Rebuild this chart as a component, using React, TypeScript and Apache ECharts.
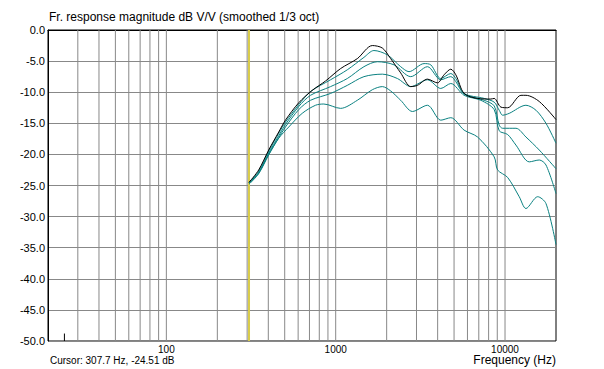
import React, { useEffect, useRef } from "react";
import * as echarts from "echarts";

const TITLE = "Fr. response magnitude dB V/V (smoothed 1/3 oct)";
const X_NAME = "Frequency (Hz)";
const CURSOR_TEXT = "Cursor: 307.7 Hz, -24.51 dB";
const CURSOR_FREQ = 307.7;
const MARKER_FREQ = 25;
const X_MIN = 20;
const X_MAX = 20000;
const Y_MIN = -50;
const Y_MAX = 0;
const Y_STEP = 5;
const xTickLabels = [100, 1000, 10000];
const gridFreqs = [
  30, 40, 50, 60, 70, 80, 90, 100,
  200, 300, 400, 500, 600, 700, 800, 900, 1000,
  2000, 3000, 4000, 5000, 6000, 7000, 8000, 9000, 10000,
];

// [frequency Hz, dB]
const curve0 = [
  [307.7, -24.5], [351, -22.5], [402, -19.3], [461, -16.4], [505, -14.5], [605, -11.7],
  [727, -9.7], [871, -8.2], [1069, -6.2], [1342, -4.6], [1646, -2.5], [1886, -2.9],
  [2112, -4.6], [2420, -6.9], [2774, -9.1], [3040, -8.9], [3482, -7.9], [3990, -8.5],
  [4366, -7.2], [4784, -6.3], [5122, -7.2], [5734, -10.2], [6882, -11.0], [8252, -11.1],
  [8630, -11.0], [9456, -12.4], [10360, -12.5], [12416, -10.5], [13288, -10.5],
  [15932, -11.5], [20000, -14.4],
];
const curve1 = [
  [307.7, -24.5], [351, -22.7], [402, -19.5], [461, -16.6], [505, -14.8], [605, -12.0],
  [710, -9.9], [933, -8.0], [1171, -6.4], [1468, -4.4], [1682, -3.3], [2019, -4.0],
  [2420, -5.9], [2710, -6.7], [3326, -5.4], [3643, -5.6], [4174, -7.8], [4784, -7.0],
  [5122, -7.8], [5734, -10.2], [7530, -11.0], [8630, -11.6], [9238, -12.9], [9676, -13.7],
  [10588, -13.4], [13288, -12.1], [15232, -12.9], [17452, -15.0], [20000, -18.2],
];
const curve2 = [
  [307.7, -24.6], [351, -22.9], [402, -19.8], [461, -17.0], [505, -15.2], [605, -12.3],
  [710, -10.5], [933, -9.1], [1171, -7.8], [1468, -5.9], [1762, -5.1], [2209, -5.6],
  [2774, -7.5], [3482, -5.9], [4174, -8.0], [4784, -7.5], [5122, -8.3], [5734, -10.3],
  [7530, -11.3], [8630, -12.2], [9238, -15.3], [9676, -15.8], [11598, -15.8],
  [13288, -17.2], [15932, -19.3], [20000, -22.3],
];
const curve3 = [
  [307.7, -24.7], [351, -23.0], [402, -20.0], [461, -17.3], [505, -15.6], [605, -12.8],
  [710, -11.3], [933, -10.2], [1171, -8.9], [1468, -7.5], [1886, -7.1], [2314, -7.8],
  [2774, -9.1], [3482, -8.0], [4174, -9.4], [4784, -8.6], [5734, -10.5], [7198, -11.3],
  [8630, -12.8], [9238, -16.2], [10360, -16.8], [11598, -18.5], [13900, -21.2],
  [15932, -20.9], [17452, -21.7], [20000, -26.3],
];
const curve4 = [
  [307.7, -24.8], [351, -23.1], [402, -20.1], [461, -17.4], [528, -15.6], [634, -13.4],
  [760, -12.1], [851, -11.9], [1069, -12.6], [1342, -11.3], [1646, -9.6], [1886, -9.1],
  [2112, -9.8], [2420, -11.3], [2838, -13.1], [3482, -12.1], [4174, -14.5], [4784, -14.1],
  [5734, -16.1], [6882, -17.2], [8630, -20.4], [9038, -22.5], [10360, -23.7],
  [12130, -26.8], [13288, -28.7], [15588, -26.8], [17452, -27.9], [20000, -34.5],
];

const FONT = "'Liberation Sans', Arial, sans-serif";
const TEAL = "#0a8080";

export default function App() {
  const ref = useRef<HTMLDivElement>(null);

  useEffect(() => {
    const chart = echarts.init(ref.current!, null, { renderer: "svg" });

    const gridSeries = gridFreqs.map((f) => ({
      type: "line",
      data: [[f, Y_MAX], [f, Y_MIN]],
      symbol: "none",
      silent: true,
      lineStyle: { color: "#888888", width: 1 },
      z: 1,
    }));

    const curveSeries = [curve4, curve3, curve2, curve1].map((c) => ({
      type: "line",
      data: c,
      symbol: "none",
      smooth: 0.3,
      lineStyle: { color: TEAL, width: 1 },
      z: 3,
    }));

    chart.setOption({
      animation: false,
      backgroundColor: "#ffffff",
      grid: {
        left: 48,
        right: 48,
        top: 30,
        bottom: 28,
        show: true,
        backgroundColor: "#ffffff",
        borderColor: "#000000",
        borderWidth: 1,
      },
      xAxis: {
        type: "log",
        logBase: 10,
        min: X_MIN,
        max: X_MAX,
        axisLine: { show: true, lineStyle: { color: "#000", width: 1 } },
        axisTick: { show: false },
        splitLine: { show: false },
        axisLabel: {
          color: "#000",
          fontSize: 10,
          lineHeight: 10,
          fontFamily: FONT,
          margin: 3,
          formatter: (v: number) => {
            const r = Math.round(v);
            return xTickLabels.includes(r) ? String(r) : "";
          },
        },
      },
      yAxis: {
        type: "value",
        min: Y_MIN,
        max: Y_MAX,
        interval: Y_STEP,
        axisLine: { show: true, lineStyle: { color: "#000", width: 1 } },
        axisTick: { show: false },
        splitLine: { show: true, lineStyle: { color: "#888888", width: 1 } },
        axisLabel: {
          color: "#000",
          fontSize: 11,
          fontFamily: FONT,
          margin: 3,
          formatter: (v: number) => v.toFixed(1),
        },
      },
      graphic: [
        {
          type: "text",
          left: 49,
          top: 11,
          style: { text: TITLE, fill: "#000", font: `12px ${FONT}` },
        },
        {
          type: "text",
          right: 48,
          top: 354,
          style: { text: X_NAME, fill: "#000", font: `12px ${FONT}` },
        },
        {
          type: "text",
          left: 50,
          top: 355,
          style: { text: CURSOR_TEXT, fill: "#000", font: `10px ${FONT}` },
        },
      ],
      series: [
        ...gridSeries,
        {
          type: "line",
          data: [[CURSOR_FREQ, Y_MAX], [CURSOR_FREQ, Y_MIN]],
          symbol: "none",
          silent: true,
          lineStyle: { color: "#d9cc4a", width: 2 },
          z: 2,
        },
        {
          type: "line",
          data: [[MARKER_FREQ, Y_MIN], [MARKER_FREQ, -48.8]],
          symbol: "none",
          silent: true,
          lineStyle: { color: "#000", width: 1 },
          z: 2,
        },
        ...curveSeries,
        {
          type: "line",
          data: curve0,
          symbol: "none",
          smooth: 0.3,
          lineStyle: { color: "#000", width: 1 },
          z: 4,
        },
      ],
    });

    return () => chart.dispose();
  }, []);

  return (
    <div
      ref={ref}
      style={{ position: "absolute", left: 0, top: 0, width: 604, height: 369 }}
    />
  );
}
